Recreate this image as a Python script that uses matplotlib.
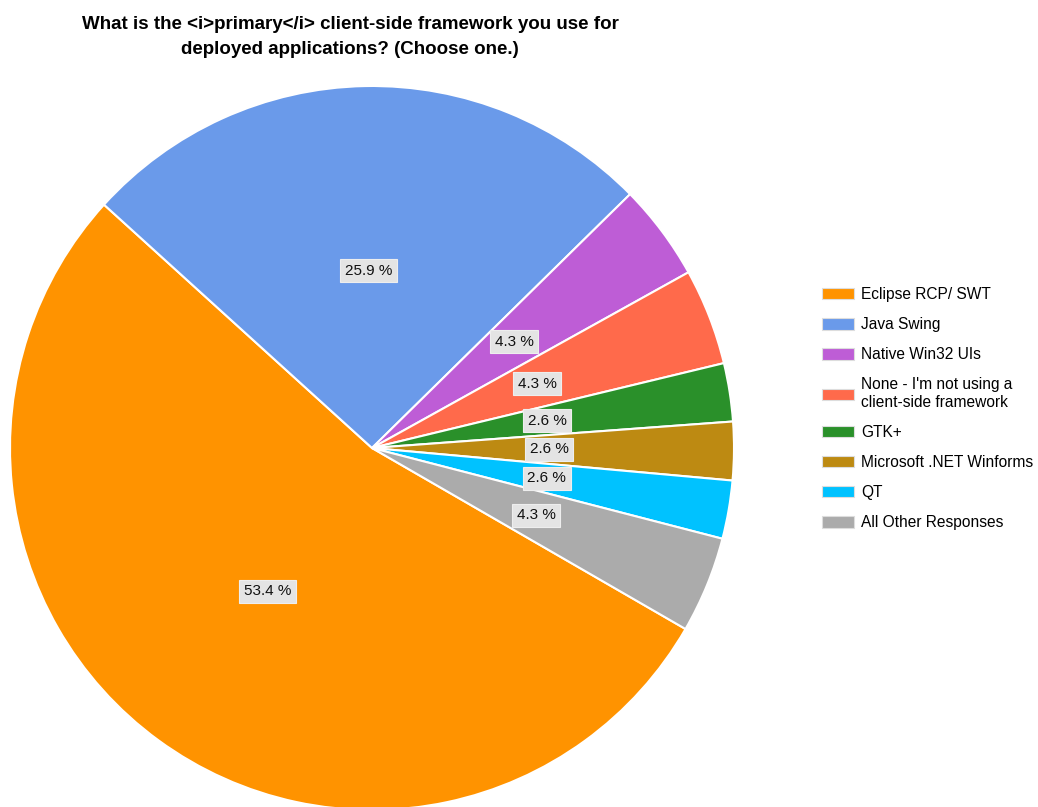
import matplotlib.pyplot as plt
from matplotlib.patches import Patch

plt.rcParams['font.family'] = ['Liberation Sans', 'DejaVu Sans']

# data
categories = ['Eclipse RCP/ SWT', 'Java Swing', 'Native Win32 UIs',
              "None - I'm not using a\nclient-side framework", 'GTK+',
              'Microsoft .NET Winforms', 'QT', 'All Other Responses']
shares = [53.4, 25.9, 4.3, 4.3, 2.6, 2.6, 2.6, 4.3]
colors = ['#FF9300', '#6A9AEA', '#BE5DD6', '#FF6A4B', '#2A902A',
          '#BD8A12', '#00C2FF', '#ABABAB']

W, H = 1038, 807
fig = plt.figure(figsize=(W / 100, H / 100), dpi=100)

# pie axes: centre ~(372, 448) px, radius ~362 px
R = 362
cx, cy = 372, 448
ax = fig.add_axes([(cx - R) / W, (H - cy - R) / H, 2 * R / W, 2 * R / H])
wedges, texts, autotexts = ax.pie(
    shares, colors=colors, startangle=-30, counterclock=False,
    autopct='%.1f %%', pctdistance=0.49,
    wedgeprops=dict(edgecolor='white', linewidth=1.5))
for t in autotexts:
    t.set_fontsize(11)
    t.set_color('#111111')
    t.set_bbox(dict(boxstyle='square,pad=0.3', facecolor='#E4E4E4',
                    edgecolor='#EEEEEE', linewidth=0.8))
ax.set_xlim(-1, 1)
ax.set_ylim(-1, 1)
ax.set_aspect('equal')
ax.axis('off')

fig.text(350 / W, 1 - 16 / H,
         'What is the <i>primary</i> client-side framework you use for\n'
         'deployed applications? (Choose one.)',
         ha='center', va='top', fontsize=13.5, fontweight='bold',
         linespacing=1.6)

handles = [Patch(facecolor=c, edgecolor='#DDDDDD', linewidth=0.8) for c in colors]
fig.legend(handles, categories, loc='upper left',
           bbox_to_anchor=(816 / W, 1 - 281 / H), frameon=False,
           fontsize=11.2, handlelength=2.05, handleheight=0.75,
           handletextpad=0.45, labelspacing=0.97, borderaxespad=0)

fig.savefig('out.png', dpi=100)
